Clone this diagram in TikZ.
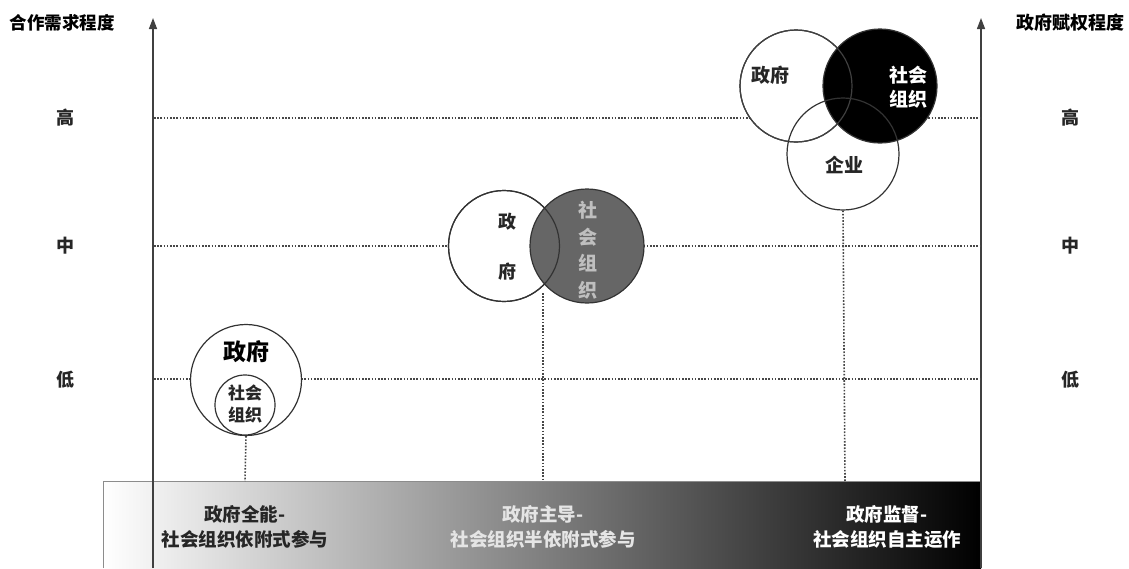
\documentclass[tikz,border=0pt]{standalone}
\usepackage{fontspec}
\setmainfont{Noto Sans CJK SC}
\usetikzlibrary{arrows.meta}
\begin{document}
\begin{tikzpicture}[x=1pt,y=-1pt,
  font=\bfseries,
  axisline/.style={draw=black!75,line width=1.4pt,-{Triangle[length=11pt,width=8pt]}},
  dotline/.style={draw=black!72,line width=1.6pt,dash pattern=on 1.6pt off 1.6pt},
  circ/.style={circle,draw=black!80,line width=1.2pt,inner sep=0pt},
  lbl/.style={font=\fontsize{18}{20}\selectfont\bfseries,text=black!85,inner sep=0pt},
  band/.style={font=\fontsize{18.5}{25}\selectfont\bfseries,align=center,inner sep=0pt}
]
\useasboundingbox (0,0) rectangle (1129,568);
% band
\shade[left color=white,right color=black] (103,481) rectangle (981,568);
\draw[black!45,line width=0.5pt] (103,568) -- (103,481) -- (981,481);
% axes
\coordinate (LB) at (153,568); \coordinate (LT) at (153,18);
\coordinate (RB) at (981,568); \coordinate (RT) at (981,18);
\draw[axisline] (LB) -- (LT);
\draw[axisline] (RB) -- (RT);
% axis titles
\node[font=\fontsize{17.5}{20}\selectfont\bfseries,inner sep=0pt] (tl) at (62,23) {合作需求程度};
\node[font=\fontsize{18}{20}\selectfont\bfseries,inner sep=0pt] (tr) at (1070,23) {政府赋权程度};
\node[lbl] (hl) at (65,118) {高}; \node[lbl] (hr) at (1070,118) {高};
\node[lbl] (ml) at (65,246) {中}; \node[lbl] (mr) at (1070,246) {中};
\node[lbl] (ll) at (65,380) {低}; \node[lbl] (lr) at (1070,380) {低};
% horizontal dotted lines
\coordinate (h1) at (154,118); \coordinate (h2) at (980,118);
\coordinate (m1) at (154,246); \coordinate (m2) at (980,246);
\coordinate (l1) at (154,379); \coordinate (l2) at (980,379);
\draw[dotline] (h1) -- (h2);
\draw[dotline] (m1) -- (m2);
\draw[dotline] (l1) -- (l2);
% low circles
\node[circ,fill=white,minimum size=111pt] (lowgov) at (246,380) {};
\node[circ,fill=white,minimum size=60pt] (lowsoc) at (245,405) {};
\node[inner sep=0pt,font=\fontsize{23}{26}\selectfont\bfseries] at (246,352) {政府};
\node[lbl,align=center,font=\fontsize{17}{22}\selectfont\bfseries] at (245,404) {社会\\组织};
% mid circles
\node[circ,fill=white,minimum size=111pt] (midgov) at (504,246) {};
\node[circ,fill=black!60,minimum size=114pt] (midsoc) at (587,246) {};
\draw[black!80,line width=1.2pt] (midgov) circle (55.5pt);
\node[lbl] at (507,222) {政};
\node[lbl] at (507,272) {府};
\node[lbl,text=black!25,align=center,font=\fontsize{19}{26.5}\selectfont\bfseries] at (588,250) {社\\会\\组\\织};
% high circles
\node[circ,fill=white,minimum size=112pt] (higov) at (796,86) {};
\node[circ,fill=black,minimum size=114pt] (hisoc) at (880,86) {};
\draw[black!75,line width=1.2pt] (higov) circle (56pt);
\node[circ,minimum size=112pt] (hient) at (843,154) {};
\node[lbl,font=\fontsize{19}{21}\selectfont\bfseries] at (770,75) {政府};
\node[lbl,text=white,align=center,font=\fontsize{19}{24}\selectfont\bfseries] at (908,87) {社会\\组织};
\node[lbl,font=\fontsize{19}{21}\selectfont\bfseries] at (844,165) {企业};
% vertical dotted lines
\coordinate (b1) at (245,481); \coordinate (b2) at (543,481); \coordinate (b3) at (845,481);
\coordinate (midx) at (543,293);
\draw[dotline] (lowgov.south) -- (b1);
\draw[dotline] (midx) -- (b2);
\draw[dotline] (hient.south) -- (b3);
% band labels
\node[band,text=black!85] at (245,527) {政府全能-\\社会组织依附式参与};
\node[band,text=black!10] at (543,527) {政府主导-\\社会组织半依附式参与};
\node[band,text=white] at (887,527) {政府监督-\\社会组织自主运作};
\end{tikzpicture}
\end{document}
